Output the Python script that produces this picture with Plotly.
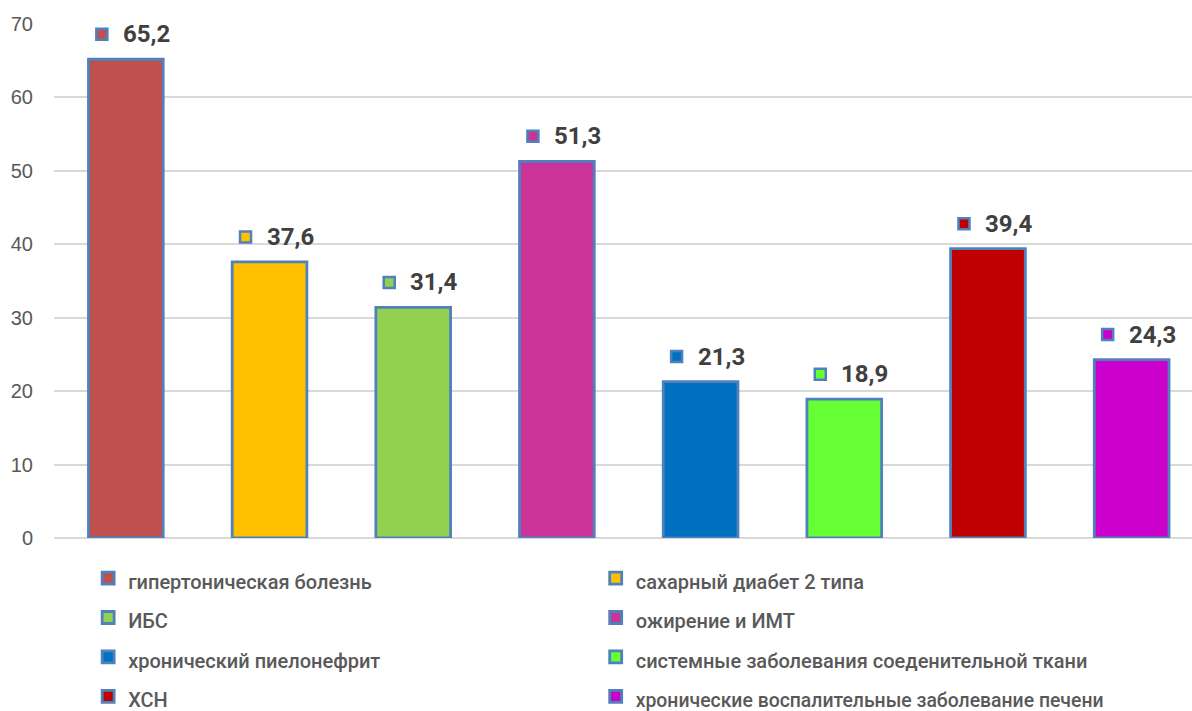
import plotly.graph_objects as go

categories = [
    "гипертоническая болезнь",
    "сахарный диабет 2 типа",
    "ИБС",
    "ожирение и ИМТ",
    "хронический пиелонефрит",
    "системные заболевания соеденительной ткани",
    "ХСН",
    "хронические воспалительные заболевание печени",
]
values = [65.2, 37.6, 31.4, 51.3, 21.3, 18.9, 39.4, 24.3]
value_labels = ["65,2", "37,6", "31,4", "51,3", "21,3", "18,9", "39,4", "24,3"]
colors = ["#C0504D", "#FFC000", "#92D050", "#CC3399", "#0070C0", "#66FF33", "#C00000", "#CC00CC"]
y_ticks = [0, 10, 20, 30, 40, 50, 60, 70]

OUTLINE = "#4F81BD"
LABEL_FONT = "Roboto, Liberation Sans, sans-serif"

plot_top, plot_bottom = 24, 538
units_per_px = 70 / (plot_bottom - plot_top)
label_lift = 25 * units_per_px

fig = go.Figure()
for i, (cat, v, c) in enumerate(zip(categories, values, colors)):
    name_size = 19.4 if len(cat) > 44 else 20
    fig.add_trace(go.Bar(
        x=[i], y=[v], width=0.52,
        name=f"<span style='font-size:{name_size}px'>{cat}</span>",
        marker=dict(color=c, line=dict(color=OUTLINE, width=2.8)),
        hoverinfo="skip",
    ))
    fig.add_trace(go.Scatter(
        x=[i - 0.167], y=[v + label_lift], mode="markers",
        marker=dict(symbol="square", size=11, color=c, line=dict(color=OUTLINE, width=2.5)),
        showlegend=False, hoverinfo="skip", cliponaxis=False,
    ))
    fig.add_annotation(
        x=i, y=v + label_lift, text=f"<b>{value_labels[i]}</b>",
        xanchor="left", yanchor="middle", xshift=-5, showarrow=False,
        font=dict(family=LABEL_FONT, size=24, color="#404040"),
    )

fig.update_layout(
    width=1192, height=711,
    margin=dict(l=54, r=0, t=plot_top, b=711 - plot_bottom, autoexpand=False),
    paper_bgcolor="white", plot_bgcolor="white",
    barmode="overlay",
    showlegend=True,
    legend=dict(
        orientation="h", x=0.030, xanchor="left", y=-0.030, yanchor="top",
        entrywidth=0.446, entrywidthmode="fraction",
        font=dict(family=LABEL_FONT, size=28, color="#595959", weight=500),
        traceorder="normal", itemwidth=30,
    ),
    xaxis=dict(
        range=[-0.5, 7.42], showticklabels=False, showgrid=False,
        zeroline=False, showline=False, ticks="",
    ),
    yaxis=dict(
        range=[0, 70], tickvals=y_ticks, ticktext=[str(t) for t in y_ticks],
        showgrid=True, gridcolor="#D9D9D9", gridwidth=1.8,
        zeroline=True, zerolinecolor="#D9D9D9", zerolinewidth=1.8,
        showline=False, ticks="", ticklabelstandoff=20,
        tickfont=dict(family="Liberation Sans, Arial, sans-serif", size=20, color="#595959"),
    ),
)

fig.write_html("out.html")
